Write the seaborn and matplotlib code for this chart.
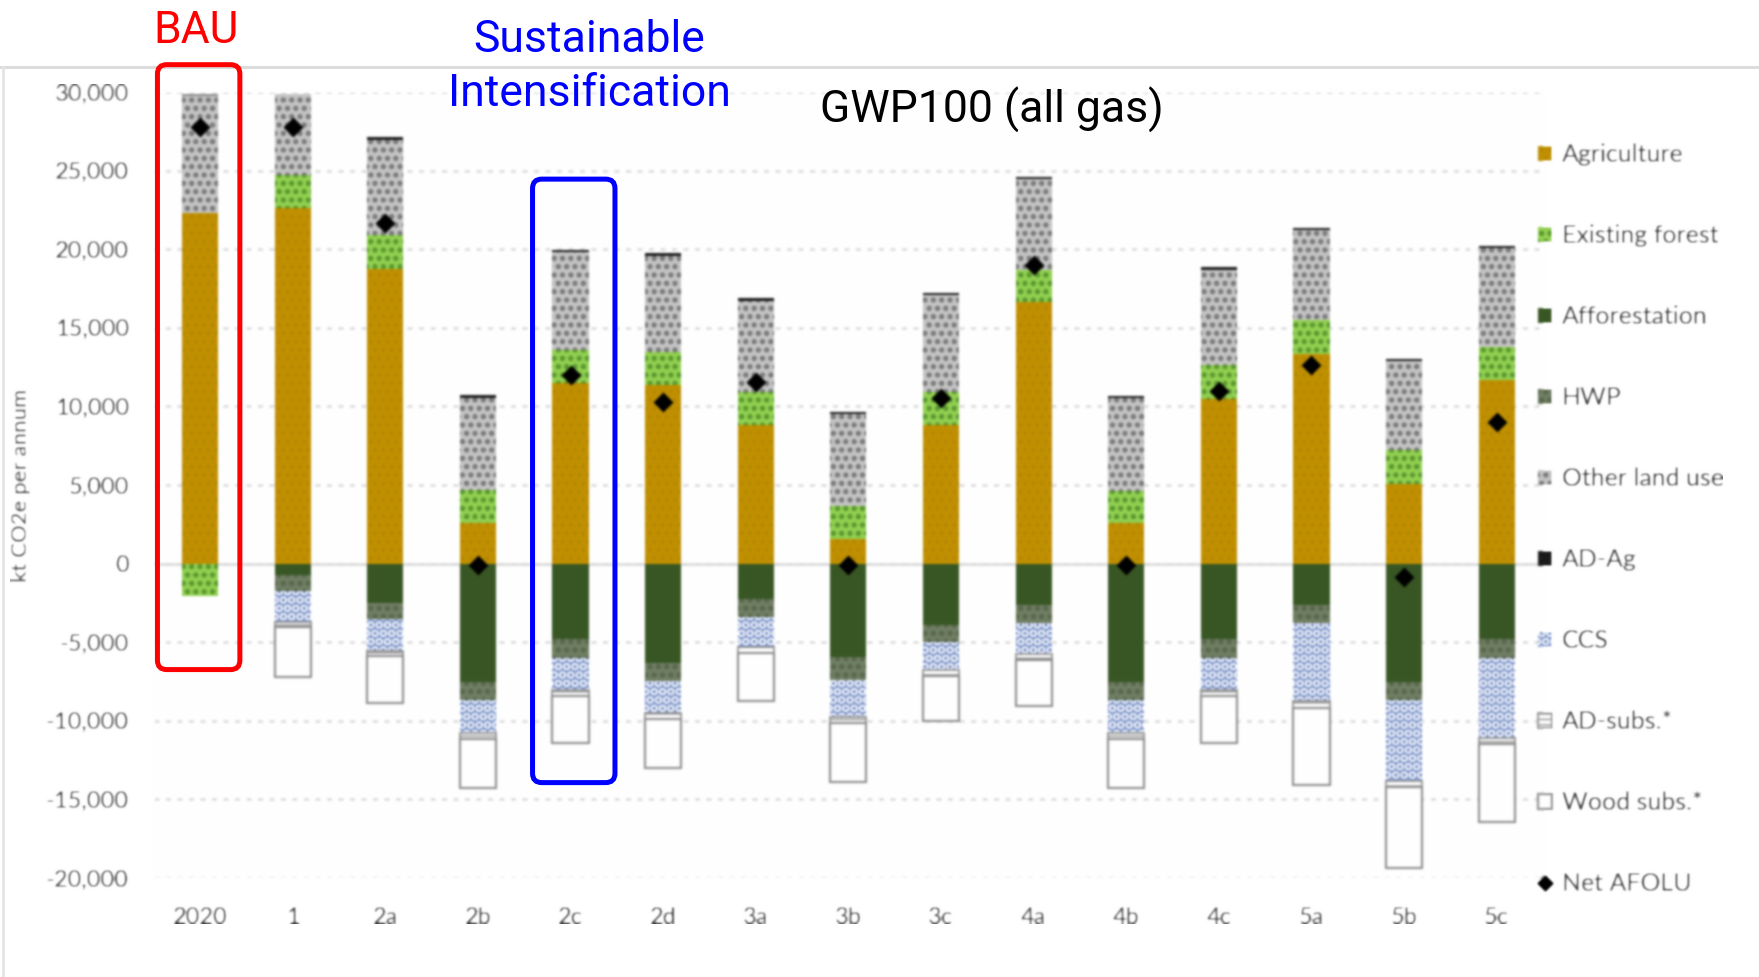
import numpy as np
import matplotlib
matplotlib.use("Agg")
import matplotlib.pyplot as plt
import seaborn as sns
from matplotlib.patches import Patch, FancyBboxPatch
from matplotlib.lines import Line2D

# ---- data (kt CO2e per annum) ----
scenarios = ["2020", "1", "2a", "2b", "2c", "2d", "3a", "3b", "3c",
             "4a", "4b", "4c", "5a", "5b", "5c"]
agriculture = [22300, 22650, 18740, 2600, 11490, 11340, 8800, 1580, 8850,
               16630, 2600, 10500, 13350, 5060, 11660]
existing_forest = [-2070, 2050, 2180, 2060, 2110, 2120, 2120, 2110, 2070,
                   2050, 2040, 2110, 2160, 2160, 2120]
afforestation = [0, -700, -2490, -7550, -4810, -6330, -2280, -5910, -3900,
                 -2640, -7550, -4810, -2640, -7550, -4810]
hwp = [0, -1050, -1050, -1100, -1200, -1160, -1100, -1520, -1060,
       -1120, -1100, -1200, -1120, -1100, -1200]
other_land_use = [7480, 5200, 6060, 5900, 6200, 6130, 5810, 5810, 6150,
                  5770, 5900, 6090, 5720, 5660, 6290]
ad_ag = [0, 0, 150, 150, 150, 150, 150, 150, 150,
         150, 150, 150, 150, 150, 150]
ccs = [0, -1950, -1990, -2150, -2050, -2000, -1940, -2320, -1830,
       -1980, -2150, -2010, -5000, -5170, -5070]
ad_subs = [0, -300, -370, -340, -340, -380, -380, -380, -380,
           -380, -340, -380, -420, -420, -420]
wood_subs = [0, -3200, -2960, -3160, -3000, -3100, -3060, -3790, -2850,
             -2950, -3160, -2990, -4910, -5130, -4960]
net_afolu = [27770, 27770, 21660, -100, 11980, 10290, 11550, -100, 10540,
             19020, -100, 10960, 12610, -840, 9020]

y_ticks = list(range(-20000, 30001, 5000))

# ---- styling ----
sns.set_theme(style="white")
plt.rcParams["font.family"] = ["Lato", "DejaVu Sans"]
plt.rcParams["hatch.linewidth"] = 1.0

TXT = "#333333"
GRID = "#d9d9d9"

series = [
    ("Agriculture", agriculture,
     dict(facecolor="#c09000", hatch="..", edgecolor="#b08400", linewidth=0)),
    ("Existing forest", existing_forest,
     dict(facecolor="#92d050", hatch="oo", edgecolor="#4f8f2a", linewidth=0)),
    ("Afforestation", afforestation,
     dict(facecolor="#375623", hatch=None, edgecolor="#375623", linewidth=0)),
    ("HWP", hwp,
     dict(facecolor="#6f7d62", hatch="oo", edgecolor="#556348", linewidth=0)),
    ("Other land use", other_land_use,
     dict(facecolor="#c4c4c4", hatch="oo", edgecolor="#6e6e6e", linewidth=0)),
    ("AD-Ag", ad_ag,
     dict(facecolor="#1a1a1a", hatch=None, edgecolor="#1a1a1a", linewidth=0)),
    ("CCS", ccs,
     dict(facecolor="#7891c9", hatch="OO", edgecolor="#ffffff", linewidth=0)),
    ("AD-subs.*", ad_subs,
     dict(facecolor="#ffffff", hatch="---", edgecolor="#8c8c8c", linewidth=1.2)),
    ("Wood subs.*", wood_subs,
     dict(facecolor="#ffffff", hatch=None, edgecolor="#8c8c8c", linewidth=1.5)),
]


def soften(im, dpi, sigma=1.2):
    """Light gaussian softening of the rendered chart panel."""
    r = int(3 * sigma) + 1
    k = np.exp(-0.5 * (np.arange(-r, r + 1) / sigma) ** 2)
    k /= k.sum()
    pad = np.pad(im, ((r, r), (r, r), (0, 0)), mode="edge")
    h, w = im.shape[:2]
    tmp = np.zeros((h, w + 2 * r, im.shape[2]))
    for i, wt in enumerate(k):
        tmp += wt * pad[i:i + h, :, :]
    out = np.zeros_like(im)
    for i, wt in enumerate(k):
        out += wt * tmp[:, i:i + w, :]
    return out, 0, 0


W, H = 1759, 977
fig = plt.figure(figsize=(W / 100, H / 100), dpi=100)
ax_rect = [0.0874, 0.1013, 0.7898, 0.8045]
ax = fig.add_axes(ax_rect)

# stacked bars: positives build upwards from 0, negatives downwards
pos = [0.0] * len(scenarios)
neg = [0.0] * len(scenarios)
for label, vals, st in series:
    bottoms = []
    for i, v in enumerate(vals):
        if v >= 0:
            bottoms.append(pos[i])
            pos[i] += v
        else:
            bottoms.append(neg[i])
            neg[i] += v
    sns.barplot(x=scenarios, y=vals, order=scenarios, bottom=bottoms,
                width=0.39, saturation=1, errorbar=None, ax=ax,
                color=st["facecolor"], edgecolor=st["edgecolor"],
                hatch=st["hatch"], linewidth=st["linewidth"], zorder=2)

# net AFOLU markers
sns.pointplot(x=scenarios, y=net_afolu, order=scenarios, errorbar=None,
              color="black", marker="D", markersize=8, linestyle="none",
              ax=ax, zorder=5)

# axes cosmetics
ax.set_xlim(-0.5, 14.5)
ax.set_ylim(-20000, 30000)
ax.set_yticks(y_ticks)
ax.set_yticklabels([f"{v:,}" for v in y_ticks])
ax.yaxis.grid(True, color=GRID, linestyle=(0, (2, 2.6)), linewidth=1.8)
ax.xaxis.grid(False)
ax.set_axisbelow(True)
ax.axhline(0, color=GRID, linewidth=1.8, zorder=1)
for s in ax.spines.values():
    s.set_visible(False)
ax.tick_params(axis="both", length=0, labelsize=17, labelcolor=TXT)
ax.tick_params(axis="y", pad=18)
ax.tick_params(axis="x", pad=21)
ax.set_xlabel("")
ax.set_ylabel("kt CO2e per annum", fontsize=16, color=TXT)
ax.yaxis.set_label_coords(-0.0885, 0.5)

# legend
handles = [Patch(facecolor=st["facecolor"], edgecolor=st["edgecolor"],
                 hatch=st["hatch"], linewidth=st["linewidth"], label=lab)
           for lab, _, st in series]
handles.append(Line2D([], [], marker="D", color="black", linestyle="none",
                      markersize=8, label="Net AFOLU"))
ax.legend(handles=handles, loc="upper left",
          bbox_to_anchor=(1538 / W, 1 - 143 / H), bbox_transform=fig.transFigure,
          frameon=False, fontsize=18, labelcolor=TXT, handlelength=0.55,
          handleheight=0.55, handletextpad=0.4, labelspacing=2.32,
          borderpad=0, borderaxespad=0)

ax.set_agg_filter(soften)

# highlight frames around scenario groups
ax_w_px = ax_rect[2] * W
ax_h_px = ax_rect[3] * H
x_per_px = 15.0 / ax_w_px
y_per_px = 50000.0 / ax_h_px
aspect = y_per_px / x_per_px
for (x0, x1, y0, y1, col) in [(-0.46, 0.43, -6740, 31740, "#ff0000"),
                              (3.59, 4.48, -13930, 24460, "#0000ff")]:
    box = FancyBboxPatch((x0, y0), x1 - x0, y1 - y0,
                         boxstyle="round,pad=0,rounding_size=0.1",
                         mutation_aspect=aspect, fill=False, edgecolor=col,
                         linewidth=3.6, clip_on=False, zorder=10,
                         transform=ax.transData)
    fig.add_artist(box)

# frame lines of the panel
fig.add_artist(Line2D([0, 1], [1 - 67 / H, 1 - 67 / H], transform=fig.transFigure,
                      color="#dcdcdc", linewidth=2.2))
fig.add_artist(Line2D([3 / W, 3 / W], [0, 1 - 67 / H], transform=fig.transFigure,
                      color="#e4e4e4", linewidth=2.0))

# titles
TF = ["Roboto", "DejaVu Sans"]
fig.text(196 / W, 1 - 31 / H, "BAU", color="#ff0000", fontsize=32,
         ha="center", va="center", family=TF)
fig.text(589 / W, 1 - 67 / H, "Sustainable\nIntensification", color="#0000ff",
         fontsize=32, ha="center", va="center", linespacing=1.36, family=TF)
fig.text(992 / W, 1 - 110 / H, "GWP100 (all gas)", color="black", fontsize=32,
         ha="center", va="center", family=TF)

fig.savefig("out.png", dpi=100, facecolor="white")
